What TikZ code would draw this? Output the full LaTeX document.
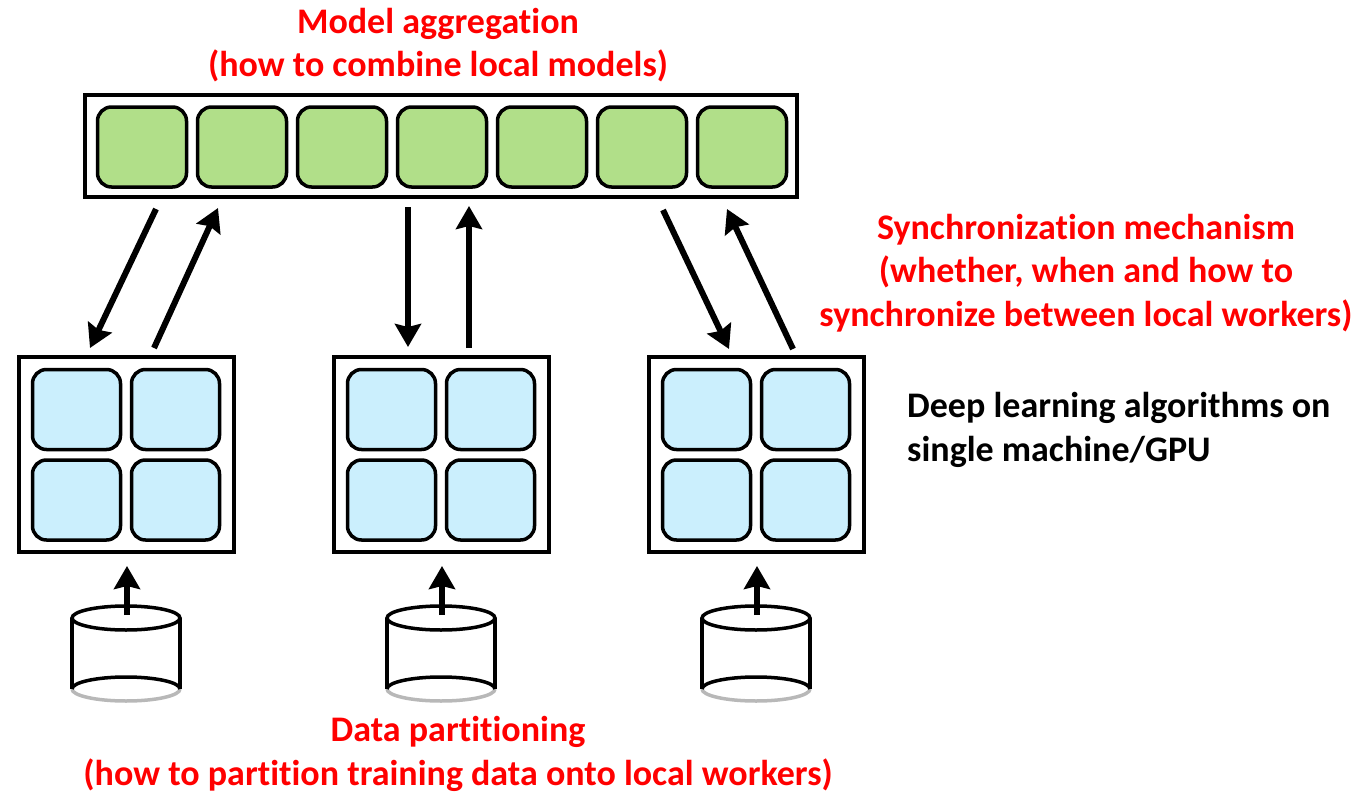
\documentclass[tikz,border=0pt]{standalone}
\usepackage{fontspec}
\setmainfont{Carlito}[Ligatures=NoCommon]
\usetikzlibrary{arrows.meta,calc}
\definecolor{paramgreen}{HTML}{B1DF89}
\definecolor{workerblue}{HTML}{CBEFFD}
\definecolor{labelred}{HTML}{FF0000}
\definecolor{rimgray}{HTML}{B8B8B8}
\tikzset{
  frame/.style={draw=black, line width=4pt, fill=white, inner sep=0pt},
  pcell/.style={draw=black, line width=3.5pt, fill=paramgreen, rounded corners=14pt,
    minimum width=89pt, minimum height=80pt, inner sep=0pt},
  wcell/.style={draw=black, line width=3.5pt, fill=workerblue, rounded corners=14pt,
    minimum width=88pt, minimum height=80pt, inner sep=0pt},
  flow/.style={line width=6pt, -{Stealth[length=23pt,width=26pt,inset=3pt]}},
  caption/.style={font=\fontsize{36}{43.5}\selectfont\bfseries, align=center, inner sep=0pt},
  redcap/.style={caption, text=labelred},
  drum/.style={line width=3.5pt}
}
\begin{document}
\begin{tikzpicture}[x=1pt,y=-1pt]
\useasboundingbox (0,0) rectangle (1357,792);

% parameter server: one row of model shards
\node[frame, minimum width=712pt, minimum height=102pt] (server) at (441,146) {};
\foreach \i in {0,...,6} {
  \node[pcell] (p\i) at (142+100*\i,147) {};
}

% workers, each holding a 2x2 block of local model parts
\foreach \w/\cx in {1/126,2/441,3/756} {
  \node[frame, minimum width=215pt, minimum height=195pt] (w\w) at (\cx,454.5) {};
  \node[wcell] (w\w a) at (\cx-49.5,409.5) {};
  \node[wcell] (w\w b) at (\cx+49.5,409.5) {};
  \node[wcell] (w\w c) at (\cx-49.5,500) {};
  \node[wcell] (w\w d) at (\cx+49.5,500) {};
}

% data stores below the workers
\foreach \w/\cx in {1/126,2/441,3/756} {
  \fill[white] (\cx-54,618) rectangle (\cx+54,689);
  \draw[drum, rimgray] (\cx-54,689) arc[start angle=180, end angle=0, x radius=54, y radius=12];
  \draw[drum] (\cx-54,689) arc[start angle=180, end angle=360, x radius=54, y radius=12];
  \draw[drum] (\cx-54,618) -- (\cx-54,689);
  \draw[drum] (\cx+54,618) -- (\cx+54,689);
  \draw[drum, fill=white] (\cx,618) ellipse[x radius=54, y radius=12];
  \coordinate (d\w) at (\cx+1,615);
  \coordinate (in\w) at (\cx+1,566);
  \draw[flow] (d\w) -- (in\w);
}

% push / pull traffic between the workers and the server
\coordinate (s1o) at (156,209);  \coordinate (w1i) at (90,348);
\coordinate (w1o) at (154,348);  \coordinate (s1i) at (218,208);
\coordinate (s2o) at (408,207);  \coordinate (w2i) at (408,347);
\coordinate (w2o) at (469,348);  \coordinate (s2i) at (469,206);
\coordinate (s3o) at (663,210);  \coordinate (w3i) at (729,349);
\coordinate (w3o) at (793,349);  \coordinate (s3i) at (727,209);
\foreach \k in {1,2,3} {
  \draw[flow] (s\k o) -- (w\k i);
  \draw[flow] (w\k o) -- (s\k i);
}

% captions
\node[redcap] (agg) at (438,45) {Model aggregation\\(how to combine local models)};
\node[redcap] (sync) at (1086,273) {Synchronization mechanism\\(whether, when and how to\\synchronize between local workers)};
\node[caption, align=left, anchor=west] (local) at (907,430) {Deep learning algorithms on\\single machine/GPU};
\node[redcap] (part) at (458,754) {Data partitioning\\(how to partition training data onto local workers)};
\end{tikzpicture}
\end{document}
